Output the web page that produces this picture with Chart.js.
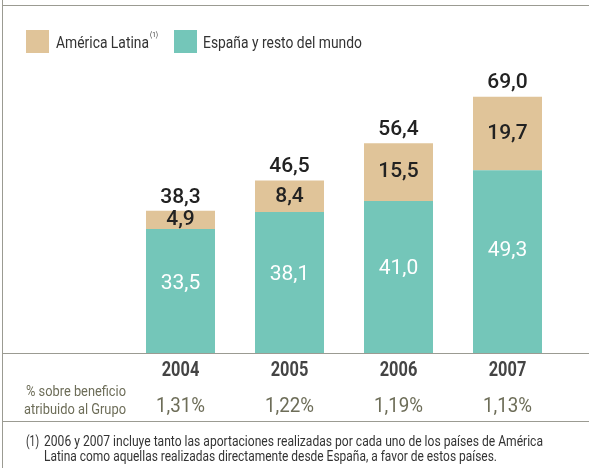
<!DOCTYPE html>
<html>
<head>
<meta charset="utf-8">
<script src="https://cdn.jsdelivr.net/npm/chart.js@4/dist/chart.umd.min.js"></script>
<style>
  html, body { margin: 0; padding: 0; background: #fff; }
  body { width: 589px; height: 468px; position: relative; overflow: hidden; font-family: Roboto, sans-serif; }
  #wrap { position: absolute; left: 0; top: 0; width: 589px; height: 468px; }
  .hl { position: absolute; left: 3px; right: 0; height: 0; border-top: 1.5px solid #9b9b92; }
  .vl { position: absolute; left: 2px; top: 0; bottom: 0; width: 0; border-left: 1.5px solid #9b9b92; }
  .sw { position: absolute; width: 23px; height: 23px; }
  .t { position: absolute; white-space: nowrap; transform-origin: 0 50%; line-height: 1; }
  .lg { font-size: 17px; color: #333; }
  .sup { font-size: 7.5px; color: #333; }
  .side { font-size: 15.5px; color: #6d6d58; }
  .foot { font-size: 14px; color: #333; }
</style>
</head>
<body>
<div id="wrap"><canvas id="c" width="589" height="468"></canvas></div>
<div class="vl"></div>
<div class="hl" style="top:5px"></div>
<div class="hl" style="top:353px"></div>
<div class="hl" style="top:421px"></div>
<div class="sw" style="left:26px;top:30px;background:#e0c499"></div>
<div class="t lg" data-x="55.5" data-cy="42.5" data-w="93">América Latina</div>
<div class="t sup" data-x="150" data-cy="35" data-w="8">(1)</div>
<div class="sw" style="left:174px;top:30px;background:#74c6b9"></div>
<div class="t lg" data-x="203" data-cy="42.5" data-w="159">España y resto del mundo</div>
<div class="t side" data-x="26" data-cy="392" data-w="100">% sobre beneficio</div>
<div class="t side" data-x="24" data-cy="410" data-w="102">atribuido al Grupo</div>
<div class="t foot" data-x="26" data-cy="441" data-w="13">(1)</div>
<div class="t foot" data-x="44" data-cy="441" data-w="499">2006 y 2007 incluye tanto las aportaciones realizadas por cada uno de los países de América</div>
<div class="t foot" data-x="44" data-cy="455.5" data-w="453">Latina como aquellas realizadas directamente desde España, a favor de estos países.</div>
<script>
const years = ['2004', '2005', '2006', '2007'];
const espana = [33.5, 38.1, 41.0, 49.3];
const america = [4.9, 8.4, 15.5, 19.7];
const totals = ['38,3', '46,5', '56,4', '69,0'];
const percents = ['1,31%', '1,22%', '1,19%', '1,13%'];

// place and horizontally fit HTML texts (condensed look)
document.querySelectorAll('.t').forEach(el => {
  const w = el.getBoundingClientRect().width;
  const h = el.getBoundingClientRect().height;
  const sx = parseFloat(el.dataset.w) / w;
  el.style.left = el.dataset.x + 'px';
  el.style.top = (parseFloat(el.dataset.cy) - h / 2) + 'px';
  el.style.transform = 'scaleX(' + sx + ')';
});

const fmt = v => v.toFixed(1).replace('.', ',');

function drawFit(ctx, text, x, y, sx) {
  ctx.save();
  ctx.translate(x, y);
  ctx.scale(sx, 1);
  ctx.fillText(text, 0, 0);
  ctx.restore();
}

const labelPlugin = {
  id: 'labels',
  afterDatasetsDraw(chart) {
    const ctx = chart.ctx;
    ctx.save();
    ctx.textAlign = 'center';
    ctx.textBaseline = 'middle';
    const m0 = chart.getDatasetMeta(0);
    const m1 = chart.getDatasetMeta(1);
    m0.data.forEach((el, i) => {
      const h = el.base - el.y;
      ctx.fillStyle = '#ffffff';
      ctx.font = "400 21px Roboto";
      ctx.fillText(fmt(espana[i]), el.x, el.base - 0.56 * h);
    });
    m1.data.forEach((el, i) => {
      ctx.fillStyle = '#222222';
      ctx.font = "500 21px Roboto";
      ctx.fillText(fmt(america[i]), el.x, (el.y + el.base) / 2);
      ctx.fillText(totals[i], el.x, el.y - 13.5);
    });
    const xs = chart.scales.x;
    // year labels
    ctx.font = "700 19.5px Roboto";
    ctx.fillStyle = '#444444';
    const sy = 37.6 / ctx.measureText('2004').width;
    years.forEach((y, i) => drawFit(ctx, y, xs.getPixelForValue(i), 371, sy));
    // percent labels
    ctx.font = "400 19.5px Roboto";
    ctx.fillStyle = '#6d6d58';
    const sp = 49 / ctx.measureText('1,31%').width;
    percents.forEach((p, i) => drawFit(ctx, p, xs.getPixelForValue(i), 407, sp));
    ctx.restore();
  }
};

new Chart(document.getElementById('c'), {
  type: 'bar',
  data: {
    labels: years,
    datasets: [
      { label: 'España y resto del mundo', data: espana, backgroundColor: '#74c6b9', stack: 's' },
      { label: 'América Latina', data: america, backgroundColor: '#e0c499', stack: 's' }
    ]
  },
  options: {
    responsive: false,
    animation: false,
    layout: { padding: { left: 126, right: 27, top: 70.6, bottom: 114 } },
    plugins: { legend: { display: false }, tooltip: { enabled: false } },
    datasets: { bar: { barPercentage: 0.633, categoryPercentage: 1.0 } },
    scales: {
      x: { stacked: true, display: false },
      y: { stacked: true, display: false, min: 0, max: 76 }
    }
  },
  plugins: [labelPlugin]
});
</script>
</body>
</html>
